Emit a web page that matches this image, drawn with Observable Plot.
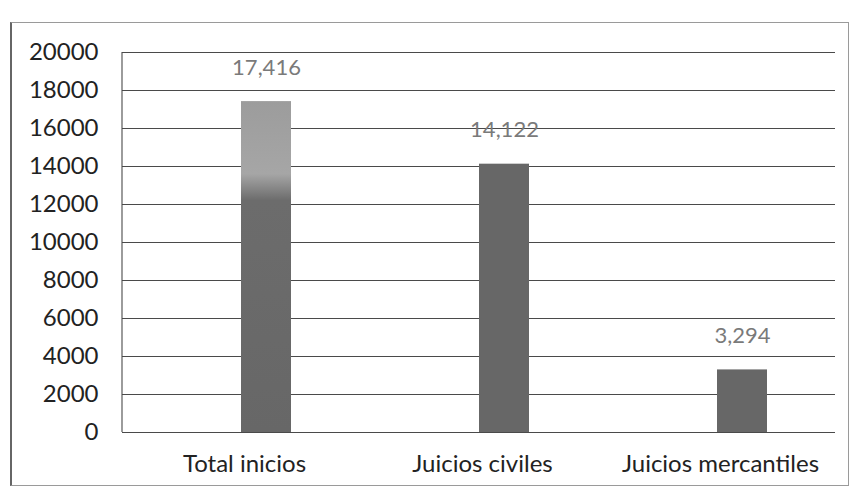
<!DOCTYPE html>
<html>
<head>
<meta charset="utf-8">
<script src="https://cdn.jsdelivr.net/npm/d3@7"></script>
<script src="https://cdn.jsdelivr.net/npm/@observablehq/plot@0.6"></script>
<style>
  body { margin: 0; background: #fff; }
  #wrap { position: relative; width: 856px; height: 494px; }
  #border { position: absolute; left: 10px; top: 22px; width: 836px; height: 462px;
            border: 1px solid #9a9a9a; border-left: 2px solid #666; pointer-events: none; }
</style>
</head>
<body>
<div id="wrap"><div id="border"></div></div>
<script>
const categories = ["Total inicios", "Juicios civiles", "Juicios mercantiles"];
const values = [17416, 14122, 3294];
const yTicks = [0, 2000, 4000, 6000, 8000, 10000, 12000, 14000, 16000, 18000, 20000];

const data = categories.map((c, i) => ({category: c, value: values[i]}));
const fmt = d3.format(",");

const chart = Plot.plot({
  width: 856,
  height: 494,
  marginLeft: 122,
  marginRight: 21,
  marginTop: 52,
  marginBottom: 62,
  style: {fontFamily: "Lato, 'Open Sans', sans-serif", fontSize: "23px", color: "#222", background: "transparent"},
  x: {domain: categories, range: [146, 862], paddingInner: 0.79, paddingOuter: 0.395, label: null},
  y: {domain: [0, 20000], label: null},
  marks: [
    Plot.ruleY(yTicks, {stroke: "#4a4a4a", strokeWidth: 1.1}),
    Plot.barY(data, {x: "category", y: "value", fill: (d, i) => i === 0 ? "url(#g0)" : "#676767"}),
    Plot.text(data, {x: "category", y: "value", text: d => fmt(d.value), dy: -34, fill: "#7a7a7a", fontSize: 22}),
    Plot.axisY({ticks: yTicks, tickFormat: d => String(d), tickSize: 0, tickPadding: 24, fill: "#222", fontSize: 24}),
    Plot.axisX({tickSize: 0, tickPadding: 22, dx: -22, fill: "#222", fontSize: 24})
  ]
});

// left axis line of plot area
const svg = d3.select(chart);
svg.append("line").attr("x1", 122).attr("x2", 122).attr("y1", 52).attr("y2", 432)
  .attr("stroke", "#4a4a4a").attr("stroke-width", 1.1);
const defs = svg.insert("defs", ":first-child");
const g = defs.append("linearGradient").attr("id", "g0").attr("x1", 0).attr("x2", 0).attr("y1", 0).attr("y2", 1);
g.append("stop").attr("offset", "0%").attr("stop-color", "#9c9c9c");
g.append("stop").attr("offset", "22%").attr("stop-color", "#a6a6a6");
g.append("stop").attr("offset", "30%").attr("stop-color", "#6c6c6c");
g.append("stop").attr("offset", "100%").attr("stop-color", "#676767");

document.getElementById("wrap").appendChild(chart);
chart.style.position = "absolute";
chart.style.left = "0";
chart.style.top = "0";
</script>
</body>
</html>
